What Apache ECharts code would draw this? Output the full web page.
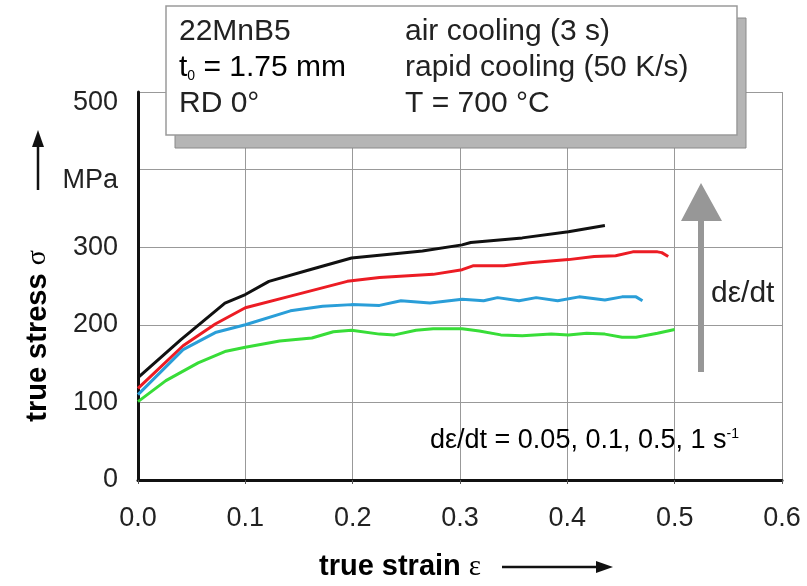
<!DOCTYPE html>
<html>
<head>
<meta charset="utf-8">
<script src="https://cdn.jsdelivr.net/npm/echarts@6/dist/echarts.min.js"></script>
<style>
html,body{margin:0;padding:0;background:#fff;}
#chart{width:807px;height:586px;}
</style>
</head>
<body>
<div id="chart"></div>
<script>
// ---- data (true strain, true stress in MPa) ----
var strain1 = [0, 0.04, 0.081, 0.1, 0.122, 0.16, 0.199, 0.265, 0.302, 0.31, 0.358, 0.401, 0.435];
var stress1 = [132, 181, 228, 239, 256, 271, 286, 295, 303, 306, 312, 320, 328];

var strain05 = [0, 0.042, 0.072, 0.1, 0.142, 0.195, 0.225, 0.275, 0.302, 0.312, 0.341, 0.365, 0.401, 0.425, 0.445, 0.461, 0.484, 0.488, 0.494];
var stress05 = [118, 173, 201, 222, 237, 256, 261, 265, 271, 276, 276, 280, 284, 288, 289, 294, 294, 293, 288];

var strain01 = [0, 0.042, 0.072, 0.1, 0.142, 0.172, 0.199, 0.225, 0.245, 0.272, 0.302, 0.322, 0.335, 0.355, 0.371, 0.391, 0.411, 0.435, 0.451, 0.464, 0.47];
var stress01 = [110, 168, 190, 200, 218, 224, 226, 225, 231, 228, 233, 231, 235, 231, 235, 231, 236, 232, 236, 236, 231];

var strain005 = [0, 0.026, 0.056, 0.082, 0.1, 0.132, 0.162, 0.182, 0.199, 0.225, 0.239, 0.259, 0.275, 0.302, 0.318, 0.338, 0.358, 0.385, 0.401, 0.418, 0.435, 0.451, 0.464, 0.484, 0.5];
var stress005 = [101, 128, 151, 166, 171, 179, 183, 191, 193, 188, 187, 193, 195, 195, 192, 187, 186, 188, 187, 189, 188, 184, 184, 189, 194];

var xTicks = [0, 0.1, 0.2, 0.3, 0.4, 0.5, 0.6];
var yTicks = [0, 100, 200, 300, 400, 500];
var yTickLabels = ['0', '100', '200', '300', 'MPa', '500'];

function pairs(xs, ys) { return xs.map(function (x, i) { return [x, ys[i]]; }); }

var FONT = '"Liberation Sans", Arial, sans-serif';
var chart = echarts.init(document.getElementById('chart'), null, {renderer: 'canvas'});

function line(name, xs, ys, color) {
  return {
    name: name, type: 'line', data: pairs(xs, ys), showSymbol: false, symbol: 'none',
    lineStyle: {color: color, width: 3}, itemStyle: {color: color}, z: 3, animation: false
  };
}

var boxFont = 30;
var option = {
  animation: false,
  backgroundColor: '#fff',
  grid: {left: 138, right: 25, top: 92, bottom: 106, containLabel: false},
  xAxis: {
    type: 'value', min: 0, max: 0.6, interval: 0.1,
    axisLine: {show: true, onZero: false, lineStyle: {color: '#111', width: 3}},
    axisTick: {show: true, length: 4, inside: false, lineStyle: {color: '#555', width: 1}},
    axisLabel: {color: '#222', fontSize: 27, fontFamily: FONT, margin: 25,
      formatter: function (v) { return v.toFixed(1); }},
    splitLine: {show: true, lineStyle: {color: '#999', width: 1}}
  },
  yAxis: {
    type: 'value', min: 0, max: 500, interval: 100,
    axisLine: {show: true, onZero: false, lineStyle: {color: '#111', width: 3}},
    axisTick: {show: false},
    axisLabel: {color: '#222', fontSize: 27, fontFamily: FONT, margin: 20,
      formatter: function (v) {
        var i = yTicks.indexOf(v);
        var s = i >= 0 ? yTickLabels[i] : String(v);
        return v >= 400 ? '{low|' + s + '}' : s;
      },
      rich: {low: {fontSize: 27, fontFamily: FONT, color: '#222', padding: [22, 0, 0, 0]}}},
    splitLine: {show: true, lineStyle: {color: '#999', width: 1}}
  },
  series: [
    line('1 s-1', strain1, stress1, '#111111'),
    line('0.5 s-1', strain05, stress05, '#ec1c24'),
    line('0.1 s-1', strain01, stress01, '#2a9ed8'),
    line('0.05 s-1', strain005, stress005, '#38dd38')
  ],
  graphic: [
    // info box shadow + box
    {type: 'rect', z: 10, shape: {x: 175, y: 18, width: 571, height: 130},
      style: {fill: '#b5b5b5', stroke: '#8a8a8a', lineWidth: 1}},
    {type: 'rect', z: 11, shape: {x: 166, y: 6, width: 571, height: 129},
      style: {fill: '#ffffff', stroke: '#9a9a9a', lineWidth: 1.5}},
    {type: 'text', z: 12, left: 179, top: 17, style: {text: '22MnB5', font: boxFont + 'px ' + FONT, fill: '#222'}},
    {type: 'text', z: 12, left: 179, top: 53, style: {
      text: '{a|t}{b|0}{a| = 1.75 mm}',
      rich: {a: {fontSize: boxFont, fontFamily: FONT, color: '#222'},
             b: {fontSize: 14, fontFamily: FONT, color: '#222', verticalAlign: 'bottom'}}}},
    {type: 'text', z: 12, left: 179, top: 89, style: {text: 'RD 0°', font: boxFont + 'px ' + FONT, fill: '#222'}},
    {type: 'text', z: 12, left: 405, top: 17, style: {text: 'air cooling (3 s)', font: boxFont + 'px ' + FONT, fill: '#222'}},
    {type: 'text', z: 12, left: 405, top: 53, style: {text: 'rapid cooling (50 K/s)', font: boxFont + 'px ' + FONT, fill: '#222'}},
    {type: 'text', z: 12, left: 405, top: 89, style: {text: 'T = 700 °C', font: boxFont + 'px ' + FONT, fill: '#222'}},

    // strain-rate arrow
    {type: 'polygon', z: 5, shape: {points: [[698, 372], [704, 372], [704, 221], [722, 221], [701, 183], [681, 221], [698, 221]]},
      style: {fill: '#979797'}},
    {type: 'text', z: 6, left: 711, top: 279, style: {text: 'dε/dt', font: '30px ' + FONT, fill: '#222'}},

    // rate list annotation
    {type: 'text', z: 6, left: 430, top: 427, style: {
      text: '{a|dε/dt = 0.05, 0.1, 0.5, 1 s}{b|-1}',
      rich: {a: {fontSize: 27, fontFamily: FONT, color: '#222'},
             b: {fontSize: 14, fontFamily: FONT, color: '#222', verticalAlign: 'top'}}}},

    // y-axis title
    {type: 'text', z: 6, x: 38, y: 336, rotation: Math.PI / 2, style: {
      text: '{a|true stress }{b|σ}', align: 'center', verticalAlign: 'middle',
      rich: {a: {fontSize: 29, fontWeight: 'bold', fontFamily: FONT, color: '#111'},
             b: {fontSize: 28, fontFamily: '"Liberation Serif", serif', color: '#111'}}}},
    {type: 'line', z: 6, shape: {x1: 38, y1: 190, x2: 38, y2: 145}, style: {stroke: '#111', lineWidth: 2.5}},
    {type: 'polygon', z: 6, shape: {points: [[32, 147], [44, 147], [38, 130]]}, style: {fill: '#111'}},

    // x-axis title
    {type: 'text', z: 6, x: 400, y: 567, style: {
      text: '{a|true strain }{b|ε}', align: 'center', verticalAlign: 'middle',
      rich: {a: {fontSize: 29, fontWeight: 'bold', fontFamily: FONT, color: '#111'},
             b: {fontSize: 29, fontFamily: '"Liberation Serif", serif', color: '#111'}}}},
    {type: 'line', z: 6, shape: {x1: 502, y1: 567, x2: 598, y2: 567}, style: {stroke: '#111', lineWidth: 2.5}},
    {type: 'polygon', z: 6, shape: {points: [[596, 561], [596, 573], [613, 567]]}, style: {fill: '#111'}}
  ]
};
chart.setOption(option);
</script>
</body>
</html>
